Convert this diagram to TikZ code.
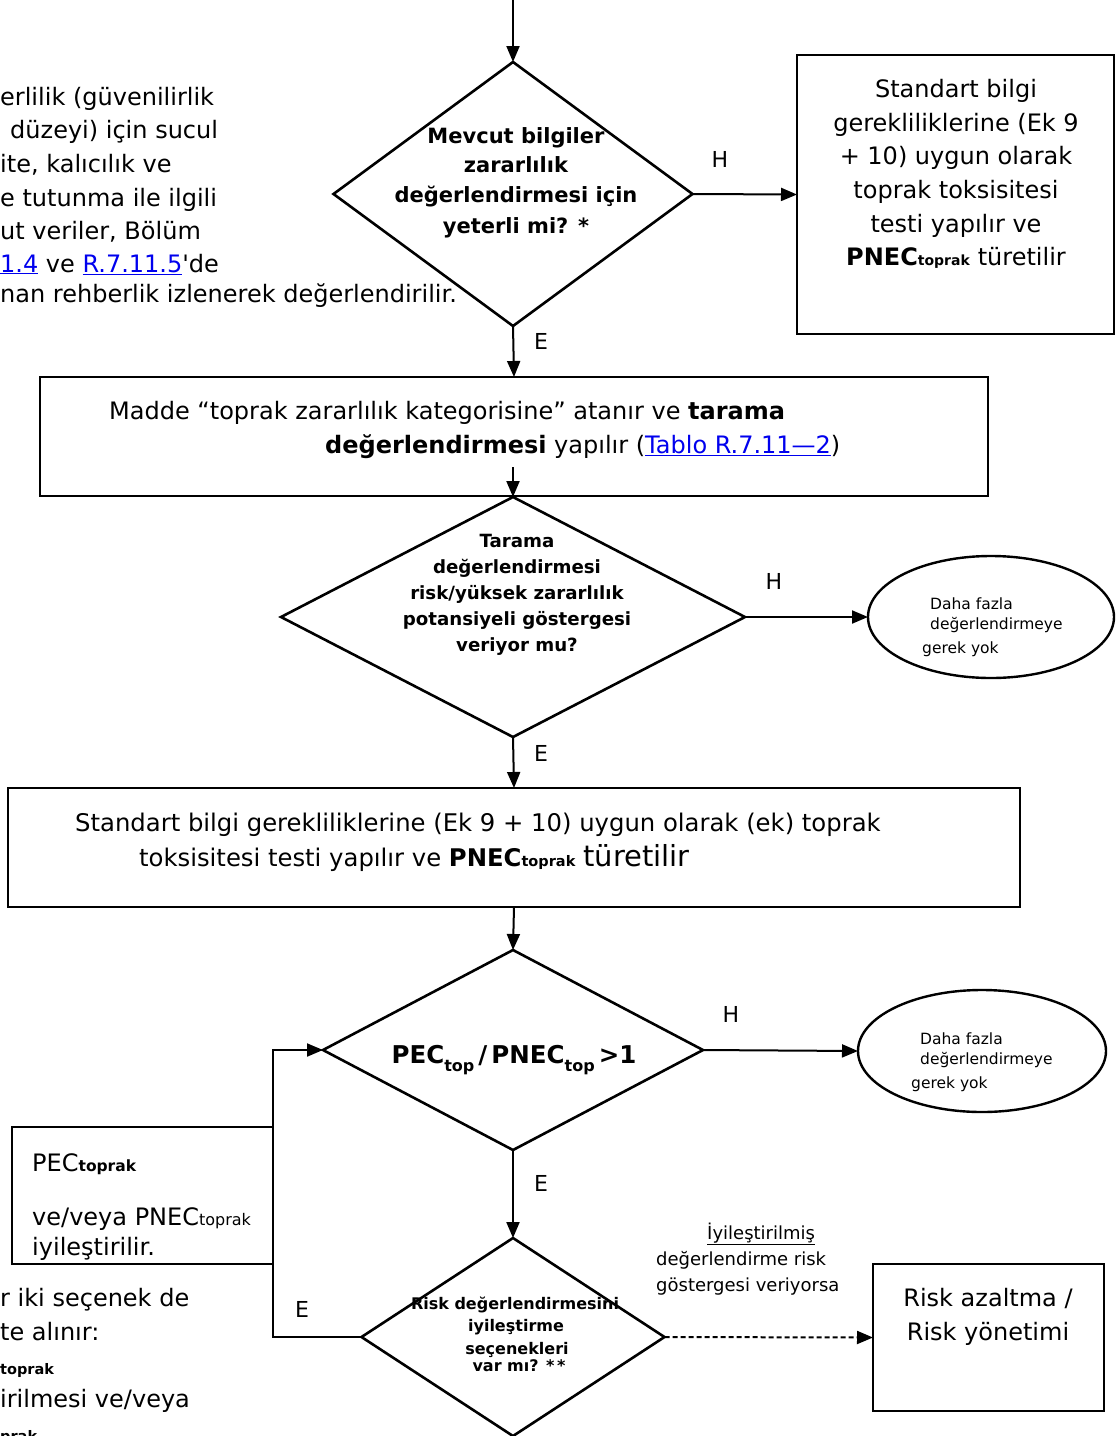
\documentclass[tikz,border=0pt]{standalone}
\usepackage{fontspec}
\setmainfont{DejaVu Sans}
\newfontfamily\nolig{DejaVu Sans}[Ligatures=TeXOff]
\usetikzlibrary{arrows.meta,shapes.geometric,calc}
\definecolor{linkblue}{RGB}{0,0,238}
\newcommand{\myfs}[1]{\fontsize{#1}{#1}\selectfont}
\newcommand{\lnk}[1]{\textcolor{linkblue}{\underline{#1}}}
\begin{document}
\begin{tikzpicture}[x=1pt,y=-1pt,
  boxn/.style={draw, line width=1.4pt, rectangle, inner sep=0pt, outer sep=0pt},
  dia/.style={draw, line width=2.6pt, diamond, inner sep=0pt, outer sep=0pt},
  ell/.style={draw, line width=2.4pt, ellipse, inner sep=0pt, outer sep=0pt},
  arr/.style={line width=2pt, -{Triangle[length=16pt,width=13pt]}},
  dasharr/.style={arr, dash pattern=on 5pt off 3pt},
  txt/.style={anchor=base west, inner sep=0pt, font=\myfs{24}},
  ctxt/.style={anchor=base, inner sep=0pt, font=\myfs{24}},
  dtxt/.style={ctxt, font=\myfs{21}\bfseries},
  d2txt/.style={ctxt, font=\myfs{18.2}\bfseries},
  d4txt/.style={ctxt, font=\myfs{16}\bfseries},
  etxt/.style={txt, font=\myfs{15.5}},
  lbl/.style={ctxt, font=\myfs{22}},
  ntxt/.style={txt, font=\myfs{18}}
]
\useasboundingbox[fill=white] (0,0) rectangle (1118,1436);

% ---------- shapes ----------
\coordinate (top) at (513,0);
\node[dia, minimum width=359pt, minimum height=264pt] (d1) at (513,194) {};
\node[boxn, minimum width=317pt, minimum height=279pt] (rbox) at (955.5,194.5) {};
\node[boxn, minimum width=948pt, minimum height=119pt] (box2) at (514,436.5) {};
\coordinate (b2out) at (513,467);
\node[dia, minimum width=464pt, minimum height=240pt] (d2) at (513,617) {};
\node[ell, minimum width=246pt, minimum height=122pt] (e1) at (991,617) {};
\node[boxn, minimum width=1012pt, minimum height=119pt] (box3) at (514,847.5) {};
\node[dia, minimum width=380pt, minimum height=200pt] (d3) at (513,1050) {};
\node[ell, minimum width=248pt, minimum height=122pt] (e2) at (982,1051) {};
\node[dia, minimum width=303pt, minimum height=198pt] (d4) at (513,1337) {};
\node[boxn, minimum width=231pt, minimum height=147pt] (box4) at (988.5,1337.5) {};
\node[boxn, minimum width=261pt, minimum height=137pt] (box5) at (142.5,1195.5) {};

% ---------- connectors ----------
\draw[arr] (top) -- (d1.north);
\draw[arr] (d1.east) -- (rbox.west);
\draw[arr] (d1.south) -- (box2.north);
\draw[arr] (b2out) -- (d2.north);
\draw[arr] (d2.east) -- (e1.west);
\draw[arr] (d2.south) -- (box3.north);
\draw[arr] (box3.south) -- (d3.north);
\draw[arr] (d3.east) -- (e2.west);
\draw[arr] (d3.south) -- (d4.north);
\draw[dasharr] (d4.east) -- (box4.west);
\draw[arr] (d4.west) -- (d4.west -| box5.east) |- (d3.west);

% ---------- labels ----------
\node[lbl] (h1) at (720,167) {H};
\node[lbl] (e1l) at (541,349) {E};
\node[lbl] (h2) at (774,589) {H};
\node[lbl] (e2l) at (541,761) {E};
\node[lbl] (h3) at (731,1022) {H};
\node[lbl] (e3l) at (541,1191) {E};
\node[lbl] (e4l) at (302,1317) {E};

% ---------- left partial text ----------
\node[txt] (l1) at (0,105) {erlilik (güvenilirlik};
\node[txt] (l2) at (10,138) {düzeyi) için sucul};
\node[txt] (l3) at (0,172) {ite, kalıcılık ve};
\node[txt] (l4) at (0,206) {e tutunma ile ilgili};
\node[txt] (l5) at (0,239) {ut veriler, Bölüm};
\node[txt] (l6) at (0,272) {\lnk{1.4} ve \lnk{R.7.11.5}{\nolig '}de};
\node[txt] (l7) at (0,302) {nan rehberlik izlenerek değerlendirilir.};

% ---------- diamond 1 text ----------
\node[dtxt] (d1a) at (516,143) {Mevcut bilgiler};
\node[dtxt] (d1b) at (516,172) {zararlılık};
\node[dtxt] (d1c) at (516,202) {değerlendirmesi için};
\node[dtxt] (d1d) at (516,233) {yeterli mi? *};

% ---------- right box text ----------
\node[ctxt] (r1) at (956,97) {Standart bilgi};
\node[ctxt] (r2) at (956,131) {gerekliliklerine (Ek 9};
\node[ctxt] (r3) at (956,164) {+ 10) uygun olarak};
\node[ctxt] (r4) at (956,198) {toprak toksisitesi};
\node[ctxt] (r5) at (956,232) {testi yapılır ve};
\node[ctxt] (r6) at (956,265) {\textbf{PNEC{\myfs{14}toprak}} türetilir};

% ---------- box 2 text ----------
\node[txt] (b2a) at (109,419) {Madde “toprak zararlılık kategorisine” atanır ve \textbf{tarama}};
\node[txt] (b2b) at (325,453) {\textbf{değerlendirmesi} yapılır (\lnk{Tablo R.7.11—2})};

% ---------- diamond 2 text ----------
\node[d2txt] (d2a) at (517,547) {Tarama};
\node[d2txt] (d2b) at (517,573) {değerlendirmesi};
\node[d2txt] (d2c) at (517,599) {risk/yüksek zararlılık};
\node[d2txt] (d2d) at (517,625) {potansiyeli göstergesi};
\node[d2txt] (d2e) at (517,651) {veriyor mu?};

% ---------- ellipse texts ----------
\node[etxt] (e1a) at (930,609) {Daha fazla};
\node[etxt] (e1b) at (930,629) {değerlendirmeye};
\node[etxt] (e1c) at (922,653) {gerek yok};
\node[etxt] (e2a) at (920,1044) {Daha fazla};
\node[etxt] (e2b) at (920,1064) {değerlendirmeye};
\node[etxt] (e2c) at (911,1088) {gerek yok};

% ---------- box 3 text ----------
\node[txt, font=\myfs{24.3}] (b3a) at (75,831) {Standart bilgi gerekliliklerine (Ek 9 + 10) uygun olarak (ek) toprak};
\node[txt, font=\myfs{24.3}] (b3b) at (139,866) {toksisitesi testi yapılır ve \textbf{PNEC{\myfs{14.5}toprak}} {\myfs{29}türetilir}};

% ---------- diamond 3 text ----------
\node[ctxt, font=\myfs{24.5}\bfseries] (d3a) at (514,1063) {PEC\raisebox{-8pt}{\myfs{16}top}\,/\,PNEC\raisebox{-8pt}{\myfs{16}top}\,>1};

% ---------- diamond 4 text ----------
\node[d4txt] (d4a) at (515,1309) {Risk değerlendirmesini};
\node[d4txt] (d4b) at (516,1331) {iyileştirme};
\node[d4txt] (d4c) at (517,1354) {seçenekleri};
\node[d4txt] (d4d) at (519,1371) {var mı? *\,*};

% ---------- dashed arrow note ----------
\node[ntxt] (n1) at (707,1239) {\underline{İyileştirilmiş}};
\node[ntxt] (n2) at (656,1265) {değerlendirme risk};
\node[ntxt] (n3) at (656,1291) {göstergesi veriyorsa};

% ---------- box 4 text ----------
\node[ctxt] (b4a) at (988,1306) {Risk azaltma /};
\node[ctxt] (b4b) at (988,1340) {Risk yönetimi};

% ---------- box 5 text ----------
\node[txt] (b5a) at (32,1171) {PEC{\myfs{15.5}\bfseries toprak}};
\node[txt] (b5b) at (32,1225) {ve/veya PNEC{\myfs{16}toprak}};
\node[txt] (b5c) at (32,1255) {iyileştirilir.};

% ---------- bottom-left partial text ----------
\node[txt] (bl1) at (0,1306) {r iki seçenek de};
\node[txt] (bl2) at (0,1340) {te alınır:};
\node[txt, font=\myfs{14.5}\bfseries] (bl3) at (0,1374) {toprak};
\node[txt] (bl4) at (0,1407) {irilmesi ve/veya};
\node[txt, font=\myfs{14.5}\bfseries] (bl5) at (0,1441) {prak};
\end{tikzpicture}
\end{document}
